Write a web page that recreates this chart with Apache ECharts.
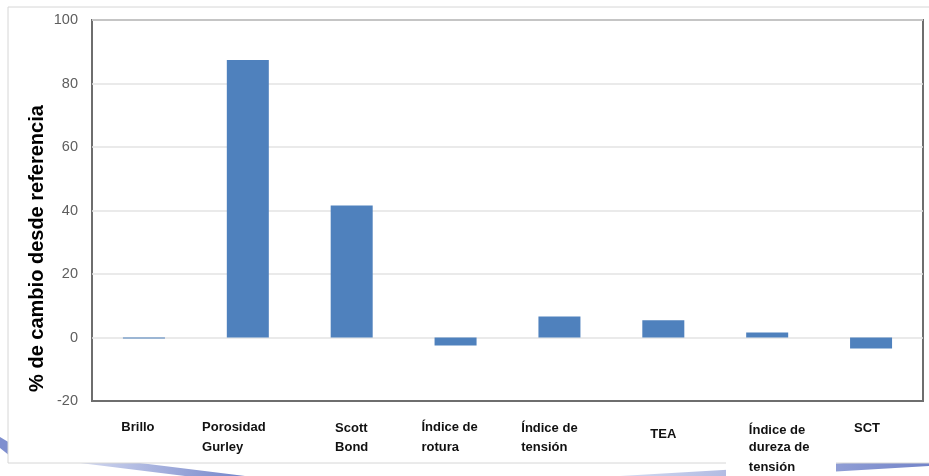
<!DOCTYPE html>
<html>
<head>
<meta charset="utf-8">
<script src="https://cdn.jsdelivr.net/npm/echarts@6/dist/echarts.min.js"></script>
<style>
html,body{margin:0;padding:0;background:#fff;}
#chart{width:929px;height:476px;}
</style>
</head>
<body>
<div id="chart"></div>
<script>
// ---- data ----
var categories = ['Brillo', 'Porosidad\nGurley', 'Scott\nBond', 'Índice de\nrotura', 'Índice de\ntensión', 'TEA', 'Índice de\ndureza de\ntensión', 'SCT'];
var values = [-0.3, 87.4, 41.6, -2.5, 6.6, 5.4, 1.6, -3.5];
var yTicks = [-20, 0, 20, 40, 60, 80, 100];
var yTitle = '% de cambio desde referencia';

// ---- label styling (layout only) ----
var labelTopPad = [0, 0, 2, 0, 2, 14, 6, 2];
var labelDx = [-6, -14, 0, -6, -10, 0, 12, -4];

var chart = echarts.init(document.getElementById('chart'));

function labelFormatter(value, idx) {
  var lines = value.split('\n');
  var out = [];
  for (var i = 0; i < lines.length; i++) {
    out.push('{s' + idx + (i === 0 ? 'f' : '') + '|' + lines[i] + '}');
  }
  return out.join('\n');
}
var rich = {};
for (var k = 0; k < categories.length; k++) {
  var base = {fontFamily: 'Liberation Sans', fontWeight: 'bold', fontSize: 13, color: '#111', lineHeight: 20, align: 'left'};
  var dx = labelDx[k];
  rich['s' + k] = Object.assign({}, base, {padding: [0, dx < 0 ? -dx * 2 : 0, 0, dx > 0 ? dx * 2 : 0]});
  rich['s' + k + 'f'] = Object.assign({}, base, {padding: [labelTopPad[k], dx < 0 ? -dx * 2 : 0, 0, dx > 0 ? dx * 2 : 0]});
}

var swoosh = function () {
  return new echarts.graphic.LinearGradient(0, 0, 1, 0, [{offset: 0, color: '#d3d9f0'}, {offset: 1, color: '#7384c9'}]);
};

var option = {
  backgroundColor: '#ffffff',
  animation: false,
  graphic: [
    {type: 'polygon', z: -10, shape: {points: [[0, 437], [10, 443], [10, 456], [0, 448]]}, style: {fill: '#7f8fcf'}},
    {type: 'polygon', z: -10, shape: {points: [[80, 463], [140, 463], [245, 476], [185, 476]]}, style: {fill: swoosh()}},
    {type: 'polygon', z: -10, shape: {points: [[620, 476], [929, 458], [929, 466], [760, 476]]}, style: {fill: swoosh()}},
    {type: 'rect', z: -9, shape: {x: 8, y: 7, width: 930, height: 456}, style: {fill: '#fff', stroke: '#d6d6d6', lineWidth: 1}},
    {type: 'rect', z: -8, shape: {x: 726, y: 455, width: 110, height: 21}, style: {fill: '#fff'}}
  ],
  grid: {left: 92, right: 6, top: 20, bottom: 75, show: true, borderColor: '#6e6e6e', borderWidth: 2, backgroundColor: 'transparent'},
  xAxis: {
    type: 'category',
    data: categories,
    axisLine: {onZero: false, lineStyle: {color: '#6e6e6e', width: 2}},
    axisTick: {show: false},
    axisLabel: {interval: 0, margin: 16, verticalAlign: 'top', formatter: labelFormatter, rich: rich}
  },
  yAxis: {
    type: 'value',
    min: yTicks[0],
    max: yTicks[yTicks.length - 1],
    interval: 20,
    name: yTitle,
    nameLocation: 'middle',
    nameGap: 45,
    nameMoveOverlap: false,
    nameTextStyle: {fontFamily: 'Liberation Sans', fontWeight: 'bold', fontSize: 20, color: '#000', padding: [0, 76, 0, 0]},
    axisLine: {show: false},
    axisTick: {show: false},
    splitLine: {lineStyle: {color: '#e3e3e3', width: 1.5}},
    axisLabel: {margin: 14, fontFamily: 'Liberation Sans', fontSize: 14.5, color: '#5e5e5e'}
  },
  series: [{
    type: 'bar',
    data: values,
    barWidth: 42,
    itemStyle: {color: '#4f81bd'}
  }]
};
chart.setOption(option);
</script>
</body>
</html>
